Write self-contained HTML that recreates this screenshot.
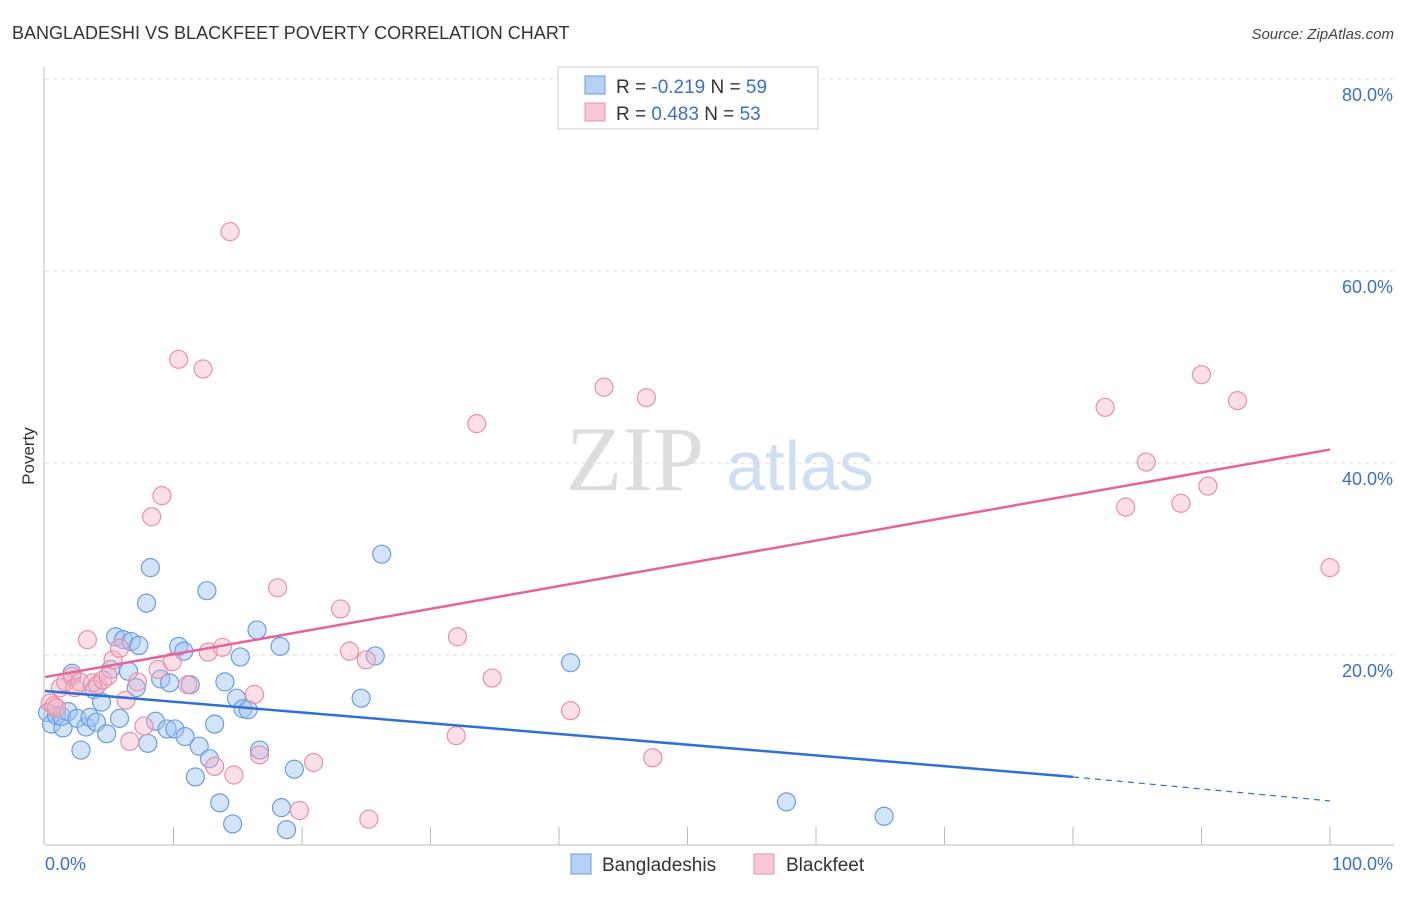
<!DOCTYPE html>
<html><head><meta charset="utf-8"><style>
body{margin:0;background:#fff;font-family:"Liberation Sans",sans-serif}
</style></head><body>
<svg id="chart" width="1406" height="892" xmlns="http://www.w3.org/2000/svg" style="font-family:'Liberation Sans',sans-serif">
<text x="12" y="39" font-size="18" fill="#333">BANGLADESHI VS BLACKFEET POVERTY CORRELATION CHART</text>
<text x="1394" y="39" font-size="15" fill="#444" font-style="italic" text-anchor="end">Source: ZipAtlas.com</text>
<text x="34" y="456" font-size="17" fill="#333" text-anchor="middle" transform="rotate(-90 34 456)">Poverty</text>
<g>
<text x="635" y="490" font-size="92" fill="#ddd" font-family="Liberation Serif,serif" text-anchor="middle">ZIP</text>
<text x="800" y="490" font-size="70" fill="#cfdff3" text-anchor="middle">atlas</text>
</g>
<g id="grid"></g><g id="axes"></g><g id="pts"></g><g id="lines"></g>
<g>
<rect x="558" y="67" width="260" height="62" fill="#fff" stroke="#ccc"/>
<rect x="585" y="76" width="20" height="18" fill="#b7d0f5" stroke="#6a9de0"/>
<rect x="585" y="103" width="20" height="18" fill="#f9c8d6" stroke="#e890aa"/>
<text x="616" y="93" font-size="19" fill="#333">R = <tspan fill="#3a6fd0">-0.219</tspan>   N = <tspan fill="#3a6fd0">59</tspan></text>
<text x="616" y="120" font-size="19" fill="#333">R =  <tspan fill="#3a6fd0">0.483</tspan>   N = <tspan fill="#3a6fd0">53</tspan></text>
</g>
<g>
<rect x="571" y="854" width="20" height="20" fill="#b7d0f5" stroke="#6a9de0"/>
<text x="602" y="871" font-size="19" fill="#333">Bangladeshis</text>
<rect x="754" y="854" width="20" height="20" fill="#f9c8d6" stroke="#e890aa"/>
<text x="786" y="871" font-size="19" fill="#333">Blackfeet</text>
</g>
</svg>
<script>
const yTicks=[20,40,60,80];
const yTickLabels=["20.0%","40.0%","60.0%","80.0%"];
const xTickLabels=["0.0%","100.0%"];
const blueX=[0.2,0.5,0.9,1.4,1.3,1.8,2.1,2.5,2.8,3.2,3.5,3.8,4.0,4.4,4.8,5.1,5.5,5.8,6.1,6.5,6.7,7.1,7.3,7.9,8.0,8.2,8.6,9.0,9.5,9.7,10.1,10.4,10.8,10.9,11.3,11.7,12.0,12.6,12.8,13.2,13.6,14.0,14.6,14.9,15.2,15.4,15.8,16.5,16.7,18.3,18.4,18.8,19.4,24.6,25.7,26.2,40.9,57.7,65.3];
const blueY=[14.0,12.8,13.7,12.4,13.6,14.1,18.1,13.4,10.1,12.5,13.5,16.4,13.0,15.1,11.8,18.5,21.9,13.4,21.6,18.3,21.4,16.6,21.0,25.4,10.8,29.1,13.1,17.5,12.3,17.1,12.3,20.9,20.4,11.5,16.9,7.3,10.5,26.7,9.2,12.8,4.6,17.2,2.4,15.5,19.8,14.4,14.3,22.6,10.1,20.9,4.1,1.8,8.1,15.5,19.9,30.5,19.2,4.7,3.2];
const pinkX=[0.4,0.7,0.9,1.2,1.6,2.1,2.3,2.7,3.3,3.7,4.1,4.5,4.9,5.3,5.8,6.3,6.6,7.2,7.7,8.3,8.8,9.1,9.9,10.4,11.1,12.3,12.7,13.2,13.8,14.4,14.7,16.3,16.7,18.1,19.8,20.9,23.0,23.7,25.0,25.2,32.0,32.1,33.6,34.8,40.9,43.5,46.8,47.3,82.5,84.1,85.7,88.4,90.0,90.5,92.8,100];
const pinkY=[15.0,14.7,14.5,16.6,17.2,17.8,16.6,17.2,21.6,17.1,16.9,17.4,17.8,19.5,20.7,15.3,11.0,17.2,12.6,34.4,18.5,36.6,19.3,50.8,16.9,49.8,20.3,8.4,20.8,64.1,7.5,15.9,9.6,27.0,3.8,8.8,24.8,20.4,19.5,2.9,11.6,21.9,44.1,17.6,14.2,47.9,46.8,9.3,45.8,35.4,40.1,35.8,49.2,37.6,46.5,29.1];
const blueTrendX=[0,80,100];
const blueTrendY=[16.25,7.3,4.8];
const pinkTrendX=[0,100];
const pinkTrendY=[17.7,41.4];
const NS="http://www.w3.org/2000/svg";
const sx=v=>45+v*12.85, sy=v=>847-v*9.6;
function mk(t,a,p){const e=document.createElementNS(NS,t);for(const k in a)e.setAttribute(k,a[k]);p.appendChild(e);return e;}
const grid=document.getElementById('grid'),axes=document.getElementById('axes'),pts=document.getElementById('pts'),lines=document.getElementById('lines');
yTicks.forEach((v,i)=>{
 const l=mk('line',{x1:45,x2:1394,y1:sy(v),y2:sy(v),stroke:'#ddd','stroke-dasharray':'4,4'},grid);
 
 
 const t=mk('text',{x:1393,y:sy(v)+22,'font-size':18,fill:'#3a6fd0','text-anchor':'end'},axes);
 t.textContent=yTickLabels[i];
 
 
});
const xa=mk('line',{x1:45,x2:1394,y1:845,y2:845,stroke:'#bbb'},axes);


const ya=mk('line',{x1:44,x2:44,y1:67,y2:845,stroke:'#bbb'},axes);


for(let i=1;i<=10;i++){const t=mk('line',{x1:sx(i*10),x2:sx(i*10),y1:827,y2:845,stroke:'#bbb'},axes);
 
 }
[[0,'start',45],[1,'end',1393]].forEach(([i,a,x])=>{const t=mk('text',{x:x,y:870,'font-size':18,fill:'#3a6fd0','text-anchor':a},axes);t.textContent=xTickLabels[i];
 
 });
blueX.forEach((x,i)=>{const c=mk('circle',{cx:sx(x),cy:sy(blueY[i]),r:9,fill:'rgba(160,195,240,0.45)',stroke:'#6a9de0','stroke-width':1.2},pts);
 
 });
pinkX.forEach((x,i)=>{const c=mk('circle',{cx:sx(x),cy:sy(pinkY[i]),r:9,fill:'rgba(245,175,195,0.4)',stroke:'#e890aa','stroke-width':1.2},pts);
 
 });
const b1=mk('line',{x1:sx(blueTrendX[0]),y1:sy(blueTrendY[0]),x2:sx(blueTrendX[1]),y2:sy(blueTrendY[1]),stroke:'#2f6fd6','stroke-width':2.5},lines);


const b2=mk('line',{x1:sx(blueTrendX[1]),y1:sy(blueTrendY[1]),x2:sx(blueTrendX[2]),y2:sy(blueTrendY[2]),stroke:'#2f6fd6','stroke-width':1.2,'stroke-dasharray':'6,5'},lines);


const p1=mk('line',{x1:sx(pinkTrendX[0]),y1:sy(pinkTrendY[0]),x2:sx(pinkTrendX[1]),y2:sy(pinkTrendY[1]),stroke:'#e4649a','stroke-width':2.5},lines);


</script>
</body></html>
